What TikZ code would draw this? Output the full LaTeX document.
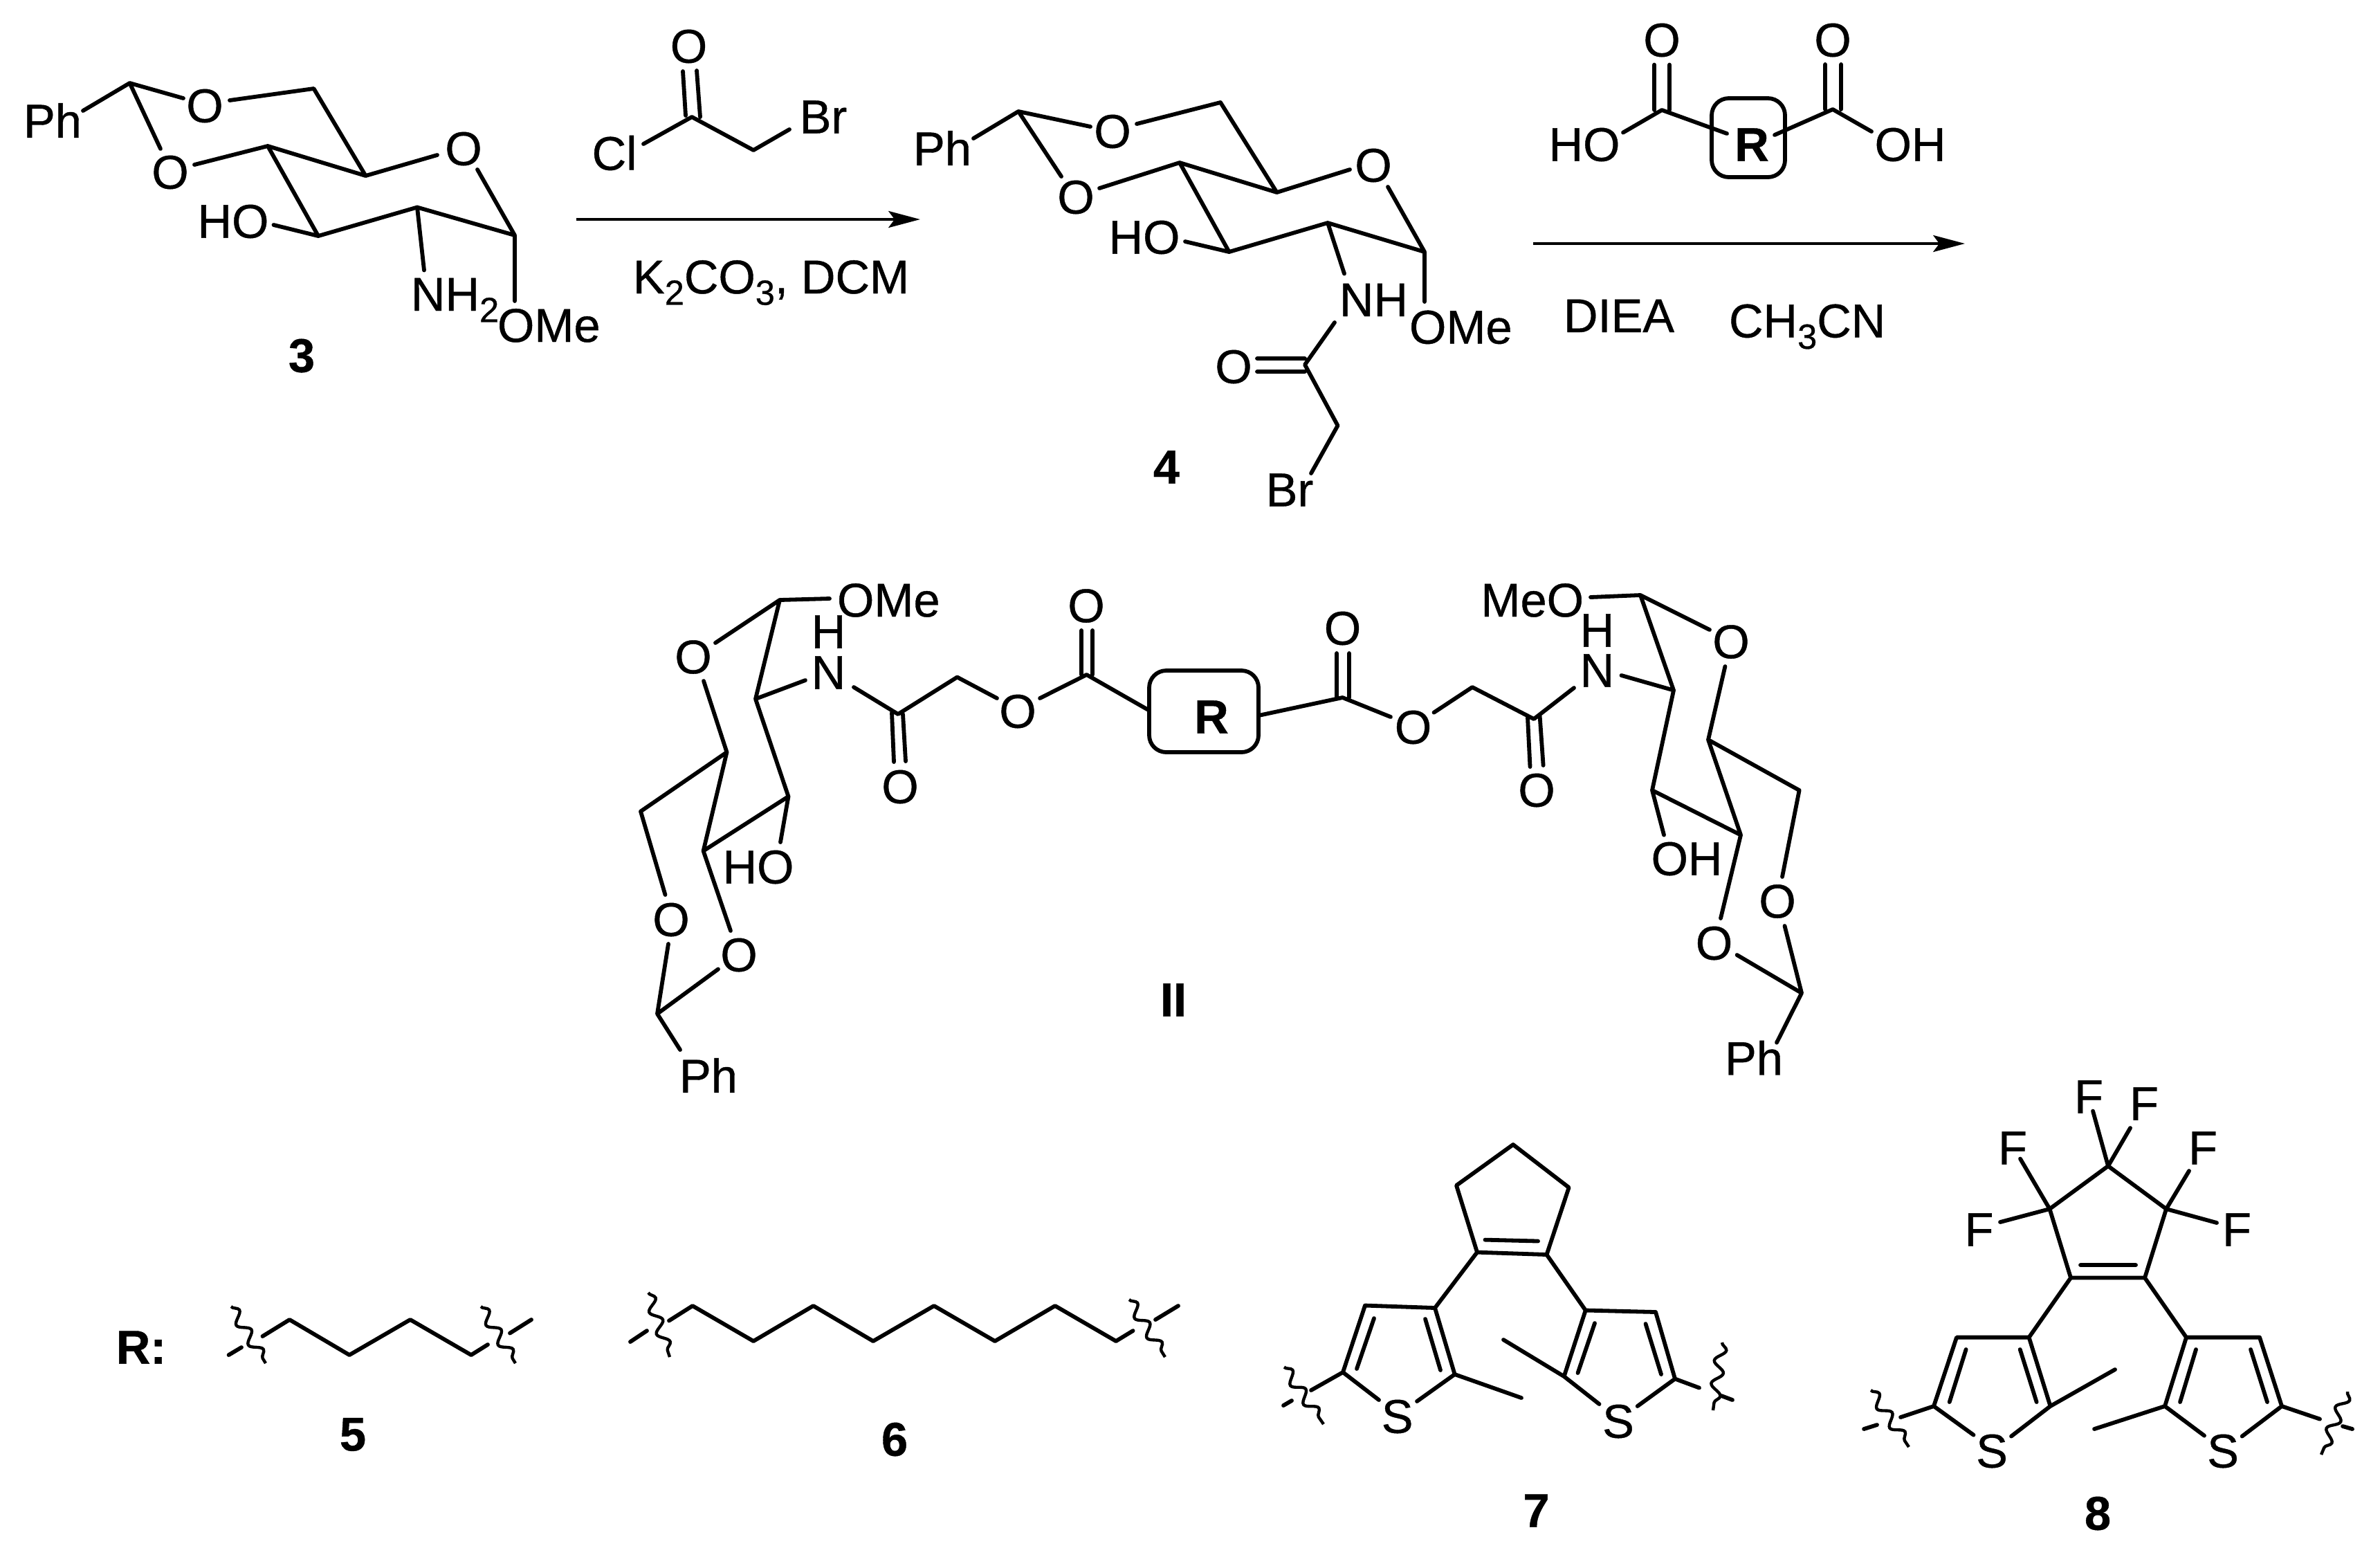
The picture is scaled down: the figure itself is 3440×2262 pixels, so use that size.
\documentclass[tikz,border=0pt]{standalone}
\usepackage{fontspec}
\setmainfont{Liberation Sans}[RawFeature={embolden=0.6}]
\usetikzlibrary{arrows.meta,decorations.pathmorphing}
\newcommand{\sbs}[1]{\raisebox{-0.24em}{\fontsize{14.4pt}{14.4pt}\selectfont #1}}
\tikzset{
  x=0.01cm,y=-0.01cm,
  bond/.style={line width=1.65pt,line cap=round,line join=round,black},
  atom/.style={inner sep=0pt,outer sep=0pt,font=\fontsize{19.5pt}{19.5pt}\selectfont},
  numlabel/.style={inner sep=0pt,outer sep=0pt,font=\fontsize{19.5pt}{19.5pt}\selectfont\bfseries},
  rxn/.style={line width=1.35pt,-{Stealth[length=13pt,width=6.8pt,inset=2.5pt]}},
  wave/.style={line width=1.25pt,decorate,decoration={snake,segment length=9.5pt,amplitude=2.2pt}},
  rbox/.style={line width=1.65pt,rounded corners=7pt}
}
\begin{document}
\begin{tikzpicture}
\useasboundingbox[fill=white] (0,0) rectangle (3440,2262);

% ---------- compound 3
\node[atom] (ph3) at (76,174) {Ph};
\node[atom] (o3a) at (296,153) {O};
\node[atom] (o3b) at (246,249) {O};
\node[atom] (o3r) at (670,215) {O};
\node[atom] (ho3) at (337,320) {HO};
\node[atom,anchor=base west] (nh3) at (594,449) {NH\sbs{2}};
\node[atom,anchor=base west] (ome3) at (719,494) {OMe};
\node[numlabel] (n3) at (436,514) {3};
\draw[bond] (120,160) -- (187.5,120) -- (265,142)
  (187.5,120) -- (232,215)
  (281,238) -- (387,211) -- (528.5,254) -- (453.5,128) -- (332,145)
  (528.5,254) -- (632,224)
  (690,245) -- (744,340) -- (603,299.5) -- (460,341) -- (387,211)
  (460,341) -- (395.5,325)
  (603,299.5) -- (613,390.5)
  (744,340) -- (744,435);

% ---------- bromoacetyl chloride
\node[atom] (o1r) at (995.5,67) {O};
\node[atom] (cl1) at (888,221) {Cl};
\node[atom] (br1) at (1190,169) {Br};
\draw[bond] (987,103) -- (991,167) (1007,102) -- (1012,169)
  (930,208) -- (1000,169) -- (1089,217) -- (1141,187);

% ---------- arrow 1
\coordinate (a1s) at (833,317);
\coordinate (a1e) at (1330,317);
\draw[rxn] (a1s) -- (a1e);
\node[atom,anchor=base west] (k2) at (915,424) {K\sbs{2}CO\sbs{3}, DCM};

% ---------- compound 4
\node[atom] (ph4) at (1362,214) {Ph};
\node[atom] (o4a) at (1608,190) {O};
\node[atom] (o4b) at (1555,285) {O};
\node[atom] (o4r) at (1985,239) {O};
\node[atom] (ho4) at (1654,343) {HO};
\node[atom,anchor=base west] (nh4) at (1936,457) {NH};
\node[atom,anchor=base west] (ome4) at (2037,496.5) {OMe};
\node[atom] (o4c) at (1783,530) {O};
\node[atom] (br4) at (1864,708) {Br};
\node[numlabel] (n4) at (1686,675) {4};
\draw[bond] (1407,200) -- (1472,161) -- (1576,183)
  (1472,161) -- (1534,255)
  (1589,272) -- (1705,235) -- (1845.5,278) -- (1764,148) -- (1643,179)
  (1845.5,278) -- (1951,245)
  (2006,270) -- (2059,364) -- (1919,322) -- (1776.5,364) -- (1705,235)
  (1776.5,364) -- (1713,349)
  (1919,322) -- (1943,395.5)
  (2059,364) -- (2059,436)
  (1929,466) -- (1886,527) -- (1933.5,615) -- (1895,684)
  (1817,518) -- (1886,518) (1817,537) -- (1886,537);

% ---------- diacid
\node[atom] (o5a) at (2402,58) {O};
\node[atom] (o5b) at (2649,58) {O};
\node[atom] (ho5) at (2290,209) {HO};
\node[atom] (oh5) at (2761,209) {OH};
\node[atom,font=\fontsize{19.5pt}{19.5pt}\selectfont\bfseries] (r5) at (2532,209) {R};
\draw[rbox] (2474,142) rectangle (2580,256);
\draw[bond] (2391,93.5) -- (2391,159) (2413,93.5) -- (2413,159)
  (2638,93) -- (2638,158) (2661,93) -- (2661,158)
  (2346,191.5) -- (2402,159) -- (2496,193)
  (2705,190) -- (2649,158) -- (2565,195);

% ---------- arrow 2
\coordinate (a2s) at (2216,352);
\coordinate (a2e) at (2840,352);
\draw[rxn] (a2s) -- (a2e);
\node[atom,anchor=base west] (diea) at (2260,480) {DIEA};
\node[atom,anchor=base west] (acn) at (2499,487.5) {CH\sbs{3}CN};

% ---------- compound II, left half
\node[atom,anchor=base west] (ome6) at (1210,891) {OMe};
\node[atom] (o6r) at (1002,949.5) {O};
\node[atom] (h6) at (1197.5,913) {H};
\node[atom] (n6) at (1197.5,972) {N};
\node[atom] (ho6) at (1096,1253) {HO};
\node[atom] (o6a) at (970,1329) {O};
\node[atom] (o6b) at (1068,1380) {O};
\node[atom] (ph6) at (1024,1554) {Ph};
\node[atom] (o6c) at (1301,1137) {O};
\node[atom] (o6d) at (1471,1028) {O};
\node[atom] (o6e) at (1570,875.5) {O};
\node[numlabel] (n2) at (1696,1445) {II};
\draw[bond] (1199,865) -- (1127,867) -- (1034,929)
  (1127,867) -- (1092,1010) -- (1164,983)
  (1092,1010) -- (1139.5,1151) -- (1016.6,1229.6) -- (1050.5,1087) -- (1017,984)
  (1139.5,1151) -- (1128,1217)
  (1050.5,1087) -- (926,1172.5) -- (961.5,1293)
  (1016.6,1229.6) -- (1056,1345)
  (966,1364) -- (950,1465) -- (1038,1400.5)
  (950,1465) -- (983,1517)
  (1234,993) -- (1298,1032) -- (1383.5,978.5) -- (1441,1009)
  (1289,1030) -- (1292,1101) (1305,1032) -- (1309,1100)
  (1503,1009) -- (1570.6,975) -- (1659,1025.5)
  (1563,911) -- (1563,975) (1579,911) -- (1579,975);

% ---------- R box in II
\draw[rbox] (1661,969) rectangle (1819,1087);
\node[atom,font=\fontsize{19.5pt}{19.5pt}\selectfont\bfseries] (r6) at (1751,1036) {R};

% ---------- compound II, right half
\node[atom] (o7e) at (1940.5,908) {O};
\node[atom] (o7d) at (2042.5,1051) {O};
\node[atom] (o7c) at (2221,1142) {O};
\node[atom] (h7) at (2308.5,911) {H};
\node[atom] (n7) at (2308.5,969) {N};
\node[atom,anchor=base east] (meo7) at (2289,891) {MeO};
\node[atom] (o7r) at (2502,927.5) {O};
\node[atom] (oh7) at (2438,1241) {OH};
\node[atom] (o7a) at (2569,1302.5) {O};
\node[atom] (o7b) at (2477.5,1363) {O};
\node[atom] (ph7) at (2535,1528.6) {Ph};
\draw[bond] (1819,1034) -- (1940.5,1008) -- (2010,1036)
  (1932,944) -- (1932,1008) (1950,944) -- (1950,1008)
  (2072.5,1029.6) -- (2128,993) -- (2217,1039) -- (2275,994)
  (2208,1037) -- (2211.5,1108) (2225.6,1035) -- (2230.6,1106)
  (2343.5,976) -- (2419,997.5)
  (2299,863) -- (2371,860) -- (2471,910)
  (2371,860) -- (2419,997.5) -- (2388,1142) -- (2516,1206.6) -- (2469,1069) -- (2493.4,963)
  (2469,1069) -- (2600.6,1142) -- (2576,1267)
  (2579.5,1338) -- (2604,1435) -- (2510.6,1380)
  (2388,1142) -- (2405,1206.6)
  (2516,1206.6) -- (2487,1327)
  (2604,1435) -- (2568,1506.6);

% ---------- R: 5 and 6
\node[atom,font=\fontsize{19.5pt}{19.5pt}\selectfont\bfseries] (rl) at (204,1947) {R:};
\node[numlabel] (n5) at (510,2073) {5};
\node[numlabel] (n6l) at (1293,2080) {6};
\draw[bond] (379.5,1931) -- (418.5,1907) -- (505,1958) -- (593,1907) -- (681,1958) -- (705,1943)
  (330.6,1958) -- (349,1947) (737,1926.5) -- (768,1907);
\draw[wave] (334,1888) -- (384,1970);
\draw[wave] (695,1888) -- (745,1970);
\draw[bond] (967,1908.5) -- (1001,1887) -- (1089,1938) -- (1175.6,1887) -- (1262,1938) -- (1350,1887) -- (1438,1938) -- (1525,1887) -- (1613,1938) -- (1637.6,1923)
  (911,1939) -- (935,1923) (1670,1907) -- (1703,1887);
\draw[wave] (937,1868) -- (968,1961);
\draw[wave] (1632,1878) -- (1684,1961);

% ---------- compound 7
\node[atom] (s7a) at (2019.6,2047) {S};
\node[atom] (s7b) at (2339,2054) {S};
\node[numlabel] (n7l) at (2220.5,2183) {7};
\draw[bond] (2135,1809.6) -- (2105,1713) -- (2187,1654) -- (2267.6,1716) -- (2235.5,1813) -- cycle
  (2146.5,1791.6) -- (2223,1793.5)
  (2135,1809.6) -- (2074,1890) -- (1973,1886.5) -- (1941,1983) -- (1993,2023)
  (2048,2025) -- (2102.6,1986) -- (2074,1890)
  (1986,1905) -- (1961,1978) (2060,1906) -- (2082,1980)
  (2102.6,1986) -- (2199,2020)
  (1941,1983) -- (1895,2009) (1867,2024) -- (1855,2031)
  (2235.5,1813) -- (2291.7,1893.5) -- (2393,1896) -- (2421,1992.5) -- (2366.7,2032)
  (2311.5,2029) -- (2260.6,1989) -- (2291.7,1893.5)
  (2305,1912) -- (2280.5,1984) (2378.5,1913) -- (2401,1986)
  (2260.6,1989) -- (2173,1936)
  (2421,1992.5) -- (2456,2005.5) (2488,2017) -- (2504,2023);
\draw[wave] (1856,1975.5) -- (1913,2058);
\draw[wave] (2489,1940) -- (2476,2038);

% ---------- compound 8
\node[atom] (f8a) at (3019,1585) {F};
\node[atom] (f8b) at (3099,1595) {F};
\node[atom] (f8c) at (2909,1659) {F};
\node[atom] (f8d) at (2860.5,1777) {F};
\node[atom] (f8e) at (3184,1659) {F};
\node[atom] (f8f) at (3233,1777) {F};
\node[atom] (s8a) at (2879,2097) {S};
\node[atom] (s8b) at (3213,2097) {S};
\node[numlabel] (n8) at (3032,2187) {8};
\draw[bond] (2993,1846.5) -- (2962.5,1747) -- (3047,1685) -- (3131,1747) -- (3100,1846.5) -- cycle
  (3007,1828) -- (3087,1828)
  (3047,1685) -- (3025,1605.5) (3047,1685) -- (3079,1630)
  (2962.5,1747) -- (2920,1674.5) (2962.5,1747) -- (2891,1766)
  (3131,1747) -- (3164,1692) (3131,1747) -- (3204,1767)
  (2993,1846.5) -- (2932.6,1932.6) -- (2828,1932.6) -- (2795,2032) -- (2852.5,2073.6)
  (2907,2075.5) -- (2963.5,2032) -- (2932.6,1932.6)
  (2841.6,1950) -- (2817.7,2026) (2919.7,1950) -- (2943.6,2026)
  (2963.5,2032) -- (3057,1979)
  (2795,2032) -- (2747,2048) (2713,2059) -- (2694,2065)
  (3100,1846.5) -- (3160,1932.6) -- (3266,1932.6) -- (3298,2032) -- (3240.6,2075.5)
  (3186,2074.6) -- (3129,2032) -- (3160,1932.6)
  (3174,1950) -- (3151,2026) (3253,1950) -- (3277,2026)
  (3129,2032) -- (3027,2065)
  (3298,2032) -- (3353,2050.6) (3386,2061) -- (3400,2065);
\draw[wave] (2704,2009) -- (2759,2091);
\draw[wave] (3393,2011) -- (3355,2102);
\end{tikzpicture}
\end{document}
